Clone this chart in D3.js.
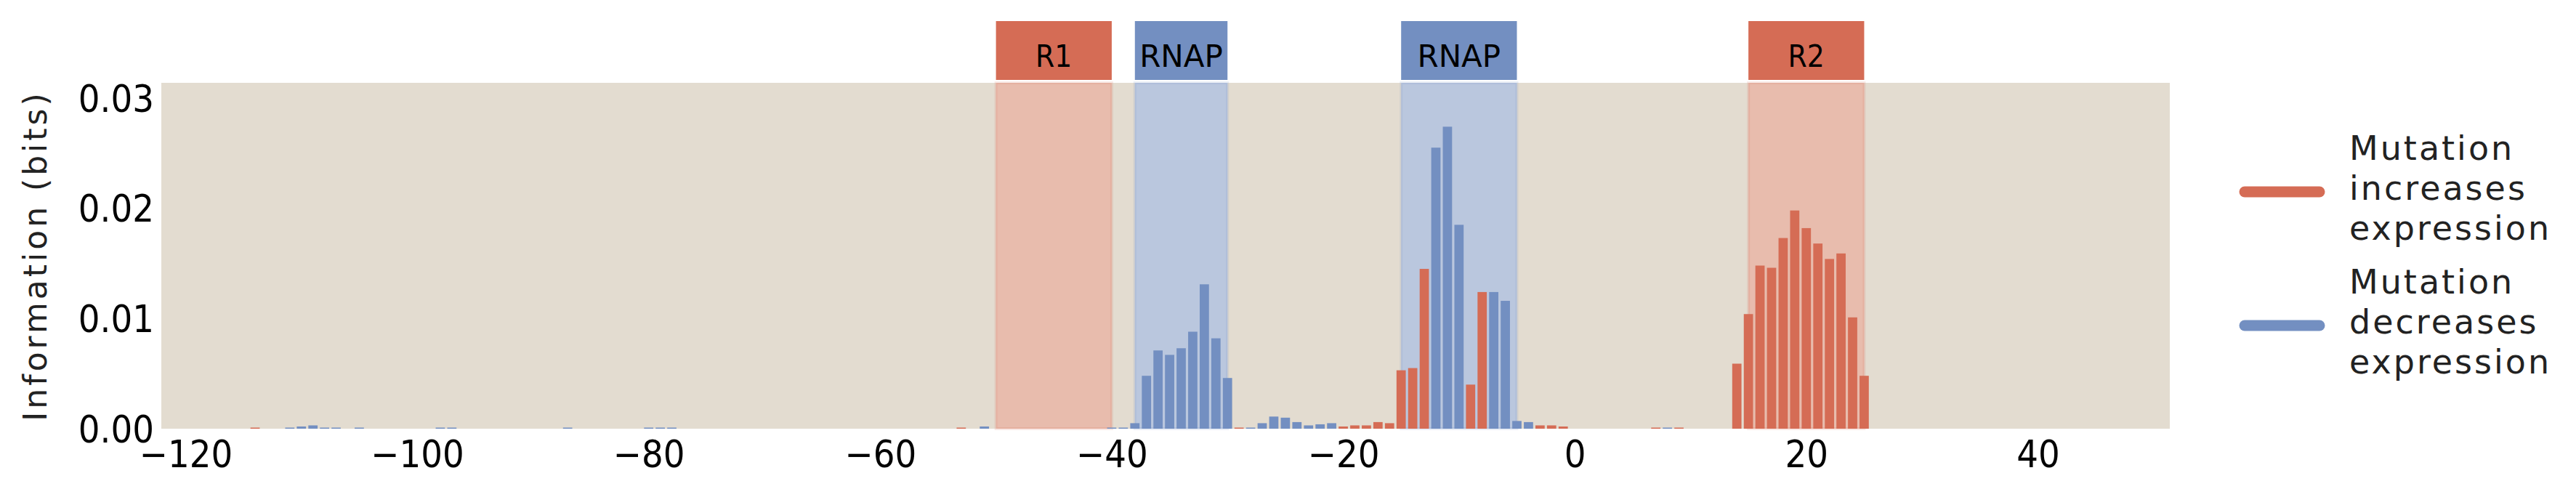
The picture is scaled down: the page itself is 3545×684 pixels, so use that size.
<!DOCTYPE html>
<html>
<head>
<meta charset="utf-8">
<script src="https://cdn.jsdelivr.net/npm/d3@7"></script>
<style>
  body { margin: 0; background: #fff; }
  .tick text { font-family: "Liberation Sans Narrow", "DejaVu Sans Condensed", sans-serif; font-size: 52px; fill: #000; }
  .lbl { font-family: "DejaVu Sans", sans-serif; }
</style>
</head>
<body>
<div id="svg"></div>
<script>
// binding sites (start, end, label, kind)
var siteStart = [-50, -38, -15, 15];
var siteEnd   = [-40, -30, -5, 25];
var siteName  = ['R1', 'RNAP', 'RNAP', 'R2'];
var siteKind  = ['inc', 'dec', 'dec', 'inc'];

// information footprint per position
var positions = [-114, -111, -110, -109, -108, -107, -105, -98, -97, -87, -80, -79, -78, -53, -51,
  -40, -39, -38, -37, -36, -35, -34, -33, -32, -31, -30, -29, -28, -27, -26, -25, -24, -23, -22, -21,
  -20, -19, -18, -17, -16, -15, -14, -13, -12, -11, -10, -9, -8, -7, -6, -5, -4, -3, -2, -1,
  7, 8, 9, 14, 15, 16, 17, 18, 19, 20, 21, 22, 23, 24, 25];
var info = [0.0001, 0.0001, 0.0002, 0.0003, 0.0001, 0.0001, 0.0001, 0.0001, 0.0001, 0.0001, 0.0001, 0.0001, 0.0001, 0.0001, 0.0002,
  0.0001, 0.0001, 0.0005, 0.0048, 0.0071, 0.0067, 0.0073, 0.0088, 0.0131, 0.0082, 0.0046, 0.0001, 0.0001, 0.0005, 0.0011, 0.0010, 0.0006, 0.0003, 0.0004, 0.0005,
  0.0002, 0.0003, 0.0003, 0.0006, 0.0005, 0.0053, 0.0055, 0.0145, 0.0255, 0.0274, 0.0185, 0.0040, 0.0124, 0.0124, 0.0116, 0.0007, 0.0006, 0.0003, 0.0003, 0.0002,
  0.0001, 0.0001, 0.0001, 0.0059, 0.0104, 0.0148, 0.0146, 0.0173, 0.0198, 0.0182, 0.0168, 0.0154, 0.0159, 0.0101, 0.0048];
var effect = ['inc', 'dec', 'dec', 'dec', 'dec', 'dec', 'dec', 'dec', 'dec', 'dec', 'dec', 'dec', 'dec', 'inc', 'dec',
  'dec', 'dec', 'dec', 'dec', 'dec', 'dec', 'dec', 'dec', 'dec', 'dec', 'dec', 'inc', 'dec', 'dec', 'dec', 'dec', 'dec', 'dec', 'dec', 'dec',
  'inc', 'inc', 'inc', 'inc', 'inc', 'inc', 'inc', 'inc', 'dec', 'dec', 'dec', 'inc', 'inc', 'dec', 'dec', 'dec', 'dec', 'inc', 'inc', 'inc',
  'inc', 'dec', 'inc', 'inc', 'inc', 'inc', 'inc', 'inc', 'inc', 'inc', 'inc', 'inc', 'inc', 'inc', 'inc'];
var xTicks = [-120, -100, -80, -60, -40, -20, 0, 20, 40];
var yTicks = [0, 0.01, 0.02, 0.03];
var legendLabels = [['Mutation', 'increases', 'expression'], ['Mutation', 'decreases', 'expression']];
var legendKinds = ['inc', 'dec'];

var color = { inc: '#d56c55', dec: '#738fc1' };
var shade = { inc: '#e8bcad', dec: '#bac7de' };

var width = 3545, height = 684;
var svg = d3.select('#svg').append('svg').attr('width', width).attr('height', height);
var m = { left: 222, right: 2986, top: 114, bottom: 590 };

var x = d3.scaleLinear().domain([-122.1, 51.4]).range([m.left, m.right]);
var y = d3.scaleLinear().domain([0, 0.03138]).range([m.bottom, m.top]);
var bw = x(0.8) - x(0);

// background
svg.append('rect')
  .attr('x', m.left).attr('y', m.top)
  .attr('width', m.right - m.left).attr('height', m.bottom - m.top)
  .attr('fill', '#e3dcd0');

// shaded sites
var sites = d3.range(siteStart.length);
svg.selectAll('.shade').data(sites).enter()
  .append('rect')
  .attr('x', function(i) { return x(siteStart[i]); })
  .attr('y', m.top)
  .attr('width', function(i) { return x(siteEnd[i]) - x(siteStart[i]); })
  .attr('height', m.bottom - m.top)
  .attr('fill', function(i) { return shade[siteKind[i]]; })
  .attr('stroke', function(i) { return color[siteKind[i]]; })
  .attr('stroke-opacity', 0.15)
  .attr('stroke-width', 4);

// label boxes
svg.selectAll('.box').data(sites).enter()
  .append('rect')
  .attr('x', function(i) { return x(siteStart[i]); })
  .attr('y', 29)
  .attr('width', function(i) { return x(siteEnd[i]) - x(siteStart[i]); })
  .attr('height', 81)
  .attr('fill', function(i) { return color[siteKind[i]]; });

svg.selectAll('.boxlbl').data(sites).enter()
  .append('text')
  .attr('x', function(i) { return (x(siteStart[i]) + x(siteEnd[i])) / 2; })
  .attr('y', 92)
  .attr('text-anchor', 'middle')
  .attr('font-family', function(i) { return siteName[i][0] == 'R' && siteName[i].length == 2 ? '"Liberation Sans Narrow", "DejaVu Sans Condensed", sans-serif' : '"DejaVu Sans", sans-serif'; })
  .style('font-size', '42px')
  .text(function(i) { return siteName[i]; });

// bars
svg.selectAll('.bar').data(d3.range(positions.length)).enter()
  .append('rect')
  .attr('x', function(i) { return x(positions[i]) - bw / 2; })
  .attr('y', function(i) { return y(info[i]); })
  .attr('width', bw)
  .attr('height', function(i) { return y(0) - y(info[i]); })
  .attr('fill', function(i) { return color[effect[i]]; });

// axes
var xAxis = svg.append('g')
  .attr('transform', 'translate(0,' + m.bottom + ')')
  .call(d3.axisBottom(x).tickValues(xTicks).tickSize(0).tickPadding(16));
xAxis.select('.domain').remove();

var yAxis = svg.append('g')
  .attr('transform', 'translate(' + (m.left - 10) + ',0)')
  .call(d3.axisLeft(y).tickValues(yTicks).tickSize(0).tickPadding(0).tickFormat(d3.format('.2f')));
yAxis.select('.domain').remove();
yAxis.selectAll('.tick text').attr('dy', '0.35em');

svg.append('text')
  .attr('class', 'lbl')
  .attr('transform', 'translate(64,' + ((m.top + m.bottom) / 2) + ') rotate(-90)')
  .attr('text-anchor', 'middle')
  .style('font-size', '44px')
  .style('letter-spacing', '4px')
  .attr('fill', '#222')
  .text('Information (bits)');

// legend
var leg = svg.selectAll('.leg').data(d3.range(legendKinds.length)).enter()
  .append('g')
  .attr('transform', function(i) { return 'translate(0,' + (i * 184) + ')'; });

leg.append('line')
  .attr('x1', 3089).attr('x2', 3192)
  .attr('y1', 264).attr('y2', 264)
  .attr('stroke', function(i) { return color[legendKinds[i]]; })
  .attr('stroke-width', 15)
  .attr('stroke-linecap', 'round');

leg.each(function(i) {
  d3.select(this).selectAll('text').data(legendLabels[i]).enter()
    .append('text')
    .attr('class', 'lbl')
    .attr('x', 3233)
    .attr('y', function(d, j) { return 220 + j * 55; })
    .style('font-size', '46px')
    .style('letter-spacing', '3px')
    .attr('fill', '#222')
    .text(function(d) { return d; });
});
</script>
</body>
</html>
